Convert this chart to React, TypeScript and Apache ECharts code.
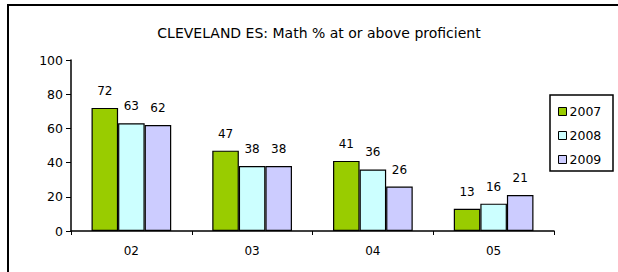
import React, { useEffect, useRef } from "react";
import * as echarts from "echarts";

const categories = ["02", "03", "04", "05"];
const seriesNames = ["2007", "2008", "2009"];
const values2007 = [72, 47, 41, 13];
const values2008 = [63, 38, 36, 16];
const values2009 = [62, 38, 26, 21];
const yTicks = [0, 20, 40, 60, 80, 100];

const colors = ["#99CC00", "#CCFFFF", "#CCCCFF"];
const FONT = "DejaVu Sans";

export default function App() {
  const ref = useRef<HTMLDivElement>(null);
  useEffect(() => {
    if (!ref.current) return;
    const chart = echarts.init(ref.current, null, { renderer: "svg" });
    const data = [values2007, values2008, values2009];
    chart.setOption({
      animation: false,
      backgroundColor: "#ffffff",
      title: {
        text: "CLEVELAND ES: Math % at or above proficient",
        left: 314,
        textAlign: "center",
        top: 21,
        textStyle: { fontFamily: FONT, fontSize: 14, fontWeight: "normal", color: "#000" },
      },
      legend: {
        data: seriesNames,
        orient: "vertical",
        left: 553,
        top: 100,
        itemWidth: 8,
        itemHeight: 8,
        itemGap: 11,
        icon: "rect",
        textStyle: { fontFamily: FONT, fontSize: 12.5, color: "#000", padding: [0, 0, 0, -2] },
        itemStyle: { borderColor: "#000", borderWidth: 1 },
      },
      grid: { left: 71, right: 64, top: 60, bottom: 41, containLabel: false },
      xAxis: {
        type: "category",
        data: categories,
        axisLine: { lineStyle: { color: "#000", width: 1.5 } },
        axisTick: { show: true, length: 4, lineStyle: { color: "#000" } },
        axisLabel: { fontFamily: FONT, fontSize: 12, color: "#000", margin: 14 },
      },
      yAxis: {
        type: "value",
        min: yTicks[0],
        max: yTicks[yTicks.length - 1],
        interval: 20,
        splitLine: { show: false },
        axisLine: { show: true, lineStyle: { color: "#000", width: 1.5 } },
        axisTick: { show: true, length: 5, lineStyle: { color: "#000" } },
        axisLabel: { fontFamily: FONT, fontSize: 12.5, color: "#000", margin: 8 },
      },
      graphic: [
        {
          type: "rect",
          shape: { x: 8, y: 5, width: 700, height: 400 },
          style: { fill: "none", stroke: "#000", lineWidth: 2 },
          silent: true,
        },
        {
          type: "rect",
          shape: { x: 550, y: 95, width: 63, height: 76 },
          style: { fill: "none", stroke: "#000", lineWidth: 1.5 },
          silent: true,
          z: 10,
        },
      ],
      series: seriesNames.map((name, i) => ({
        name,
        type: "bar",
        data: data[i],
        barGap: "0%",
        barCategoryGap: "34%",
        itemStyle: { color: colors[i], borderColor: "#000", borderWidth: 1.2 },
        label: {
          show: true,
          position: "top",
          distance: 11,
          fontFamily: FONT,
          fontSize: 12,
          color: "#000",
        },
      })),
    });
    return () => chart.dispose();
  }, []);
  return (
    <div
      ref={ref}
      style={{ position: "absolute", left: 0, top: 0, width: 618, height: 272, background: "#fff" }}
    />
  );
}
